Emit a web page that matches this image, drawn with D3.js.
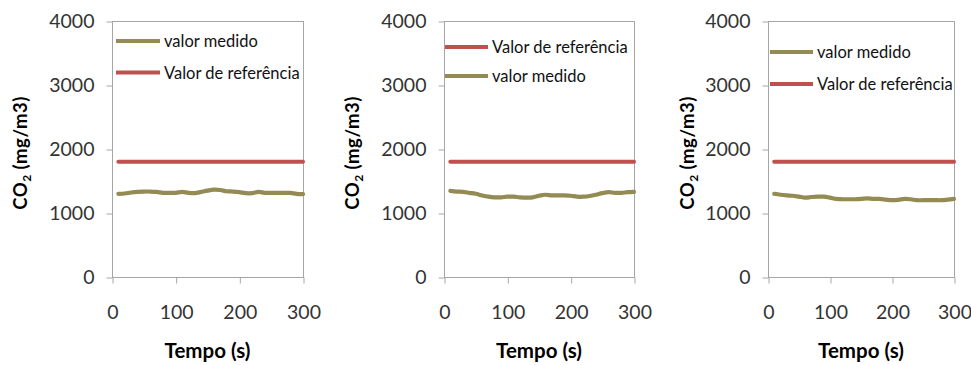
<!DOCTYPE html>
<html>
<head>
<meta charset="utf-8">
<script src="https://cdn.jsdelivr.net/npm/d3@7"></script>
<style>
  body { margin: 0; background: #fff; }
  svg { display: block; }
  text { font-family: Lato, "Open Sans", sans-serif; }
</style>
</head>
<body>
<svg id="chart" width="971" height="365"></svg>
<script>
// Sampling instants (s)
const tempo = [10, 20, 30, 40, 50, 60, 70, 80, 90, 100,
               110, 120, 130, 140, 150, 160, 170, 180, 190, 200,
               210, 220, 230, 240, 250, 260, 270, 280, 290, 300];

// Axis tick values
const tempoTicks = [0, 100, 200, 300];
const co2Ticks = [0, 1000, 2000, 3000, 4000];

// Measured CO2 (mg/m3), one series per room
const medidoA = [1300, 1305, 1320, 1330, 1335, 1335, 1330, 1315, 1315, 1315,
                 1330, 1315, 1310, 1330, 1350, 1365, 1360, 1340, 1335, 1325,
                 1310, 1310, 1330, 1315, 1315, 1315, 1315, 1315, 1300, 1295];
const medidoB = [1345, 1335, 1330, 1315, 1300, 1275, 1255, 1245, 1245, 1255,
                 1255, 1245, 1240, 1245, 1270, 1285, 1275, 1275, 1275, 1270,
                 1255, 1255, 1265, 1285, 1310, 1325, 1315, 1315, 1325, 1330];
const medidoC = [1300, 1285, 1275, 1270, 1255, 1240, 1250, 1255, 1255, 1240,
                 1220, 1215, 1215, 1215, 1220, 1230, 1220, 1220, 1210, 1200,
                 1205, 1220, 1215, 1200, 1200, 1200, 1200, 1200, 1210, 1220];

// Reference limit (mg/m3)
const referenciaA = [1800, 1800, 1800, 1800, 1800, 1800, 1800, 1800, 1800, 1800,
                     1800, 1800, 1800, 1800, 1800, 1800, 1800, 1800, 1800, 1800,
                     1800, 1800, 1800, 1800, 1800, 1800, 1800, 1800, 1800, 1800];
const referenciaB = referenciaA.slice();
const referenciaC = referenciaA.slice();

const nomeMedido = "valor medido";
const nomeReferencia = "Valor de referência";
const tituloX = "Tempo (s)";

const corMedido = "#948a54";
const corReferencia = "#c0504d";
const corEixo = "#a6a6a6";

// Layout of the three small panels
const panels = [
  { left: 112, right: 303, titleX: 21, medido: medidoA, referencia: referenciaA,
    legendX: 116, legendLen: 44,
    legend: [{ key: "medido", y: 41 }, { key: "referencia", y: 72.5 }] },
  { left: 444, right: 634, titleX: 353, medido: medidoB, referencia: referenciaB,
    legendX: 445, legendLen: 43,
    legend: [{ key: "referencia", y: 47 }, { key: "medido", y: 76 }] },
  { left: 768, right: 954, titleX: 688, medido: medidoC, referencia: referenciaC,
    legendX: 770, legendLen: 43,
    legend: [{ key: "medido", y: 52 }, { key: "referencia", y: 84 }] }
];
const plotTop = 21, plotBottom = 277;

const svg = d3.select("#chart");

panels.forEach(p => {
  const x = d3.scaleLinear().domain([0, 300]).range([p.left, p.right]);
  const y = d3.scaleLinear().domain([0, 4000]).range([plotBottom, plotTop]);
  const g = svg.append("g");

  // plot frame
  g.append("rect")
    .attr("x", p.left + 0.5).attr("y", plotTop + 0.5)
    .attr("width", p.right - p.left).attr("height", plotBottom - plotTop)
    .attr("fill", "none").attr("stroke", corEixo).attr("stroke-width", 1);

  // y axis
  const yAxis = g.append("g")
    .attr("transform", `translate(${p.left + 0.5},0.5)`)
    .call(d3.axisLeft(y).tickValues(co2Ticks).tickSize(6).tickPadding(12).tickFormat(d3.format("d")));
  yAxis.select(".domain").remove();
  yAxis.selectAll(".tick line").attr("stroke", corEixo);
  yAxis.selectAll(".tick text")
    .attr("fill", "#333").attr("font-size", 19.5)
    .attr("font-family", "Lato, sans-serif");

  // x axis
  const xAxis = g.append("g")
    .attr("transform", `translate(0.5,${plotBottom + 0.5})`)
    .call(d3.axisBottom(x).tickValues(tempoTicks).tickSize(6).tickPadding(22).tickFormat(d3.format("d")));
  xAxis.select(".domain").remove();
  xAxis.selectAll(".tick line").attr("stroke", corEixo);
  xAxis.selectAll(".tick text")
    .attr("fill", "#333").attr("font-size", 19.5)
    .attr("font-family", "Lato, sans-serif");

  // series
  const line = d3.line()
    .x((d, i) => x(tempo[i]))
    .y(d => y(d))
    .curve(d3.curveCatmullRom);

  g.append("path").datum(p.referencia)
    .attr("d", line).attr("fill", "none")
    .attr("stroke", corReferencia).attr("stroke-width", 4).attr("stroke-linecap", "round");
  g.append("path").datum(p.medido)
    .attr("d", line).attr("fill", "none")
    .attr("stroke", corMedido).attr("stroke-width", 4.2).attr("stroke-linecap", "round")
    .attr("stroke-linejoin", "round");

  // legend
  p.legend.forEach(item => {
    const color = item.key === "medido" ? corMedido : corReferencia;
    const label = item.key === "medido" ? nomeMedido : nomeReferencia;
    g.append("line")
      .attr("x1", p.legendX).attr("x2", p.legendX + p.legendLen)
      .attr("y1", item.y).attr("y2", item.y)
      .attr("stroke", color).attr("stroke-width", 4);
    g.append("text")
      .attr("x", p.legendX + p.legendLen + 4).attr("y", item.y + 6)
      .attr("font-size", 16.5).attr("fill", "#111")
      .text(label);
  });

  // y title: CO2 (mg/m3)
  const yt = g.append("text")
    .attr("transform", `translate(${p.titleX},153) rotate(-90)`)
    .attr("text-anchor", "middle")
    .attr("dy", "0.35em")
    .attr("font-size", 18.5).attr("font-weight", "bold").attr("fill", "#000")
    .attr("letter-spacing", 0.5);
  yt.append("tspan").text("CO");
  yt.append("tspan").attr("font-size", 12).attr("dy", 4).text("2");
  yt.append("tspan").attr("dy", -4).text(" (mg/m3)");

  // x title
  g.append("text")
    .attr("x", (p.left + p.right) / 2).attr("y", 358)
    .attr("text-anchor", "middle")
    .attr("font-size", 20.5).attr("font-weight", "bold").attr("fill", "#000")
    .text(tituloX);
});
</script>
</body>
</html>
